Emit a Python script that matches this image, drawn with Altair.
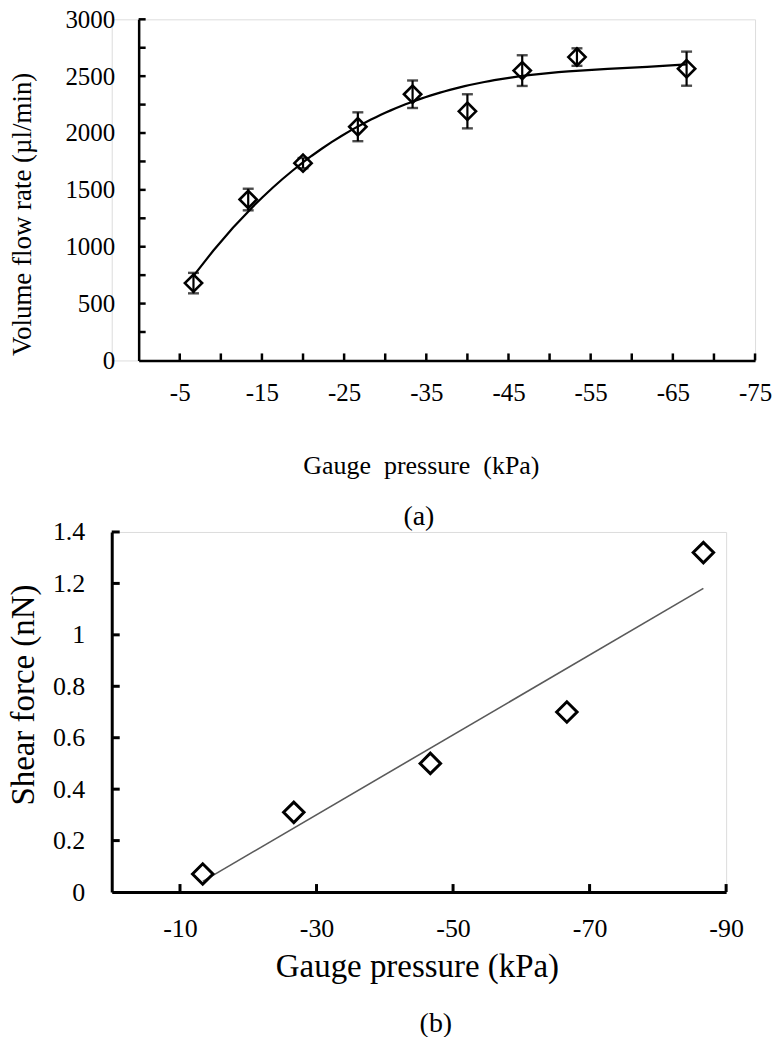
import altair as alt
import pandas as pd

# ---------------- data: panel (a) ----------------
pressure_a = [-6.67, -13.33, -20.0, -26.67, -33.33, -40.0, -46.67, -53.33, -66.67]
flow_a = [680, 1415, 1735, 2055, 2341, 2191, 2549, 2668, 2566]
flow_err_a = [90, 95, 45, 127, 121, 150, 135, 77, 150]
x_ticks_a = [-5, -10, -15, -20, -25, -30, -35, -40, -45, -50, -55, -60, -65, -70, -75]
x_labels_a = [-5, -15, -25, -35, -45, -55, -65, -75]
y_ticks_a = [250, 500, 750, 1000, 1250, 1500, 1750, 2000, 2250, 2500, 2750, 3000]
y_labels_a = [0, 500, 1000, 1500, 2000, 2500, 3000]

# ---------------- data: panel (b) ----------------
pressure_b = [-13.33, -26.67, -46.67, -66.67, -86.67]
shear_b = [0.07, 0.31, 0.50, 0.70, 1.32]
x_ticks_b = [-10, -30, -50, -70, -90]
y_ticks_b = [0.2, 0.4, 0.6, 0.8, 1.0, 1.2, 1.4]
y_labels_b = [0, 0.2, 0.4, 0.6, 0.8, 1.0, 1.2, 1.4]

captions = ["(a)", "(b)"]

FONT = "Liberation Serif"

# ================= panel (a) =================
WA, HA, XOFF = 645, 342, 27
xa_scale = alt.Scale(domain=[0, -75], range=[XOFF, WA], nice=False, zero=False)
ya_scale = alt.Scale(domain=[0, 3000], nice=False)

xa_axis = alt.Axis(
    values=x_labels_a, labelExpr="'-' + abs(datum.value)", ticks=False, tickSize=0,
    grid=False, domainColor="black", domainWidth=2.5,
    labelFont=FONT, labelFontSize=25, labelColor="black", labelPadding=32,
    labelBaseline="middle", labelFlush=False,
    title="Gauge\u00a0\u00a0pressure\u00a0\u00a0(kPa)", titleFont=FONT, titleFontSize=26,
    titleFontWeight="normal", titleColor="black", titleX=310, titleY=105,
    titleAlign="center", titleBaseline="middle",
)
ya_axis = alt.Axis(
    values=y_labels_a, format="d", ticks=False, tickSize=0, offset=-XOFF,
    grid=False, domainColor="black", domainWidth=2.5,
    labelFont=FONT, labelFontSize=25, labelColor="black", labelPadding=24,
    title="Volume flow rate (\u00b5l/min)", titleFont=FONT, titleFontSize=27,
    titleFontWeight="normal", titleColor="black", titleX=-116, titleY=195,
    titleAngle=-90, titleAlign="center", titleBaseline="middle",
)

dfa = pd.DataFrame({"p": pressure_a, "q": flow_a, "e": flow_err_a})
base_a = alt.Chart(dfa)
XA = alt.X("p:Q", scale=xa_scale, axis=xa_axis)

fit_a = base_a.transform_regression("p", "q", method="poly", order=3).mark_line(
    color="black", strokeWidth=2.2
).encode(x=XA, y=alt.Y("q:Q", scale=ya_scale, axis=ya_axis))

err_a = base_a.transform_calculate(lo="datum.q - datum.e", hi="datum.q + datum.e")
bars_a = err_a.mark_rule(color="black", strokeWidth=2.2).encode(
    x=XA, y=alt.Y("lo:Q", scale=ya_scale, axis=ya_axis), y2="hi:Q")
cap_lo = err_a.mark_tick(color="black", orient="horizontal", size=11, thickness=2.4).encode(
    x=XA, y=alt.Y("lo:Q", scale=ya_scale, axis=ya_axis))
cap_hi = err_a.mark_tick(color="black", orient="horizontal", size=11, thickness=2.4).encode(
    x=XA, y=alt.Y("hi:Q", scale=ya_scale, axis=ya_axis))
pts_a = base_a.mark_point(shape="diamond", filled=False, size=300, strokeWidth=2.6,
                          color="black", opacity=1).encode(
    x=XA, y=alt.Y("q:Q", scale=ya_scale, axis=ya_axis))

xt_a = alt.Chart(pd.DataFrame({"p": x_ticks_a})).mark_rule(color="black", strokeWidth=2.5).encode(
    x=XA, y=alt.value(HA), y2=alt.value(HA - 7))
yt_a = alt.Chart(pd.DataFrame({"q": y_ticks_a})).mark_rule(color="black", strokeWidth=2.5).encode(
    y=alt.Y("q:Q", scale=ya_scale, axis=ya_axis), x=alt.value(XOFF), x2=alt.value(XOFF + 7))
cap_a = alt.Chart(pd.DataFrame({"t": [captions[0]]})).mark_text(
    font=FONT, fontSize=28, color="black", align="center", baseline="middle").encode(
    text="t:N", x=alt.value(308), y=alt.value(499))

panel_a = alt.layer(xt_a, yt_a, fit_a, bars_a, cap_lo, cap_hi, pts_a, cap_a).properties(
    width=WA, height=HA)

# ================= panel (b) =================
WB, HB = 616, 361
xb_scale = alt.Scale(domain=[0, -90], nice=False, zero=False)
yb_scale = alt.Scale(domain=[0, 1.4], nice=False)

xb_axis = alt.Axis(
    values=x_ticks_b, labelExpr="'-' + abs(datum.value)", ticks=False, tickSize=0,
    grid=False, domainColor="black", domainWidth=3,
    labelFont=FONT, labelFontSize=26, labelColor="black", labelPadding=37,
    labelBaseline="middle", labelFlush=False,
    title="Gauge pressure (kPa)", titleFont=FONT, titleFontSize=33,
    titleFontWeight="normal", titleColor="black", titleX=306, titleY=75,
    titleAlign="center", titleBaseline="middle",
)
yb_axis = alt.Axis(
    values=y_labels_b, format=".1~f", ticks=False, tickSize=0,
    grid=False, domainColor="black", domainWidth=3,
    labelFont=FONT, labelFontSize=26, labelColor="black", labelPadding=27,
    title="Shear force (nN)", titleFont=FONT, titleFontSize=33,
    titleFontWeight="normal", titleColor="black", titleX=-88, titleY=163,
    titleAngle=-90, titleAlign="center", titleBaseline="middle",
)

dfb = pd.DataFrame({"p": pressure_b, "s": shear_b})
base_b = alt.Chart(dfb)
XB = alt.X("p:Q", scale=xb_scale, axis=xb_axis)
YB = alt.Y("s:Q", scale=yb_scale, axis=yb_axis)

fit_b = base_b.transform_regression("p", "s").mark_line(color="#5a5a5a", strokeWidth=1.6).encode(
    x=XB, y=YB)
pts_b = base_b.mark_point(shape="diamond", filled=False, size=420, strokeWidth=3,
                          color="black", opacity=1).encode(x=XB, y=YB)
xt_b = alt.Chart(pd.DataFrame({"p": x_ticks_b})).mark_rule(color="black", strokeWidth=3).encode(
    x=XB, y=alt.value(HB), y2=alt.value(HB - 8))
yt_b = alt.Chart(pd.DataFrame({"s": y_ticks_b})).mark_rule(color="black", strokeWidth=3).encode(
    y=YB, x=alt.value(0), x2=alt.value(8))
cap_b = alt.Chart(pd.DataFrame({"t": [captions[1]]})).mark_text(
    font=FONT, fontSize=28, color="black", align="center", baseline="middle").encode(
    text="t:N", x=alt.value(325), y=alt.value(493))

panel_b = alt.layer(xt_b, yt_b, fit_b, pts_b, cap_b).properties(width=WB, height=HB)

chart = alt.vconcat(panel_a, panel_b, spacing=172, bounds="flush").properties(
    autosize=alt.AutoSizeParams(type="none"),
    padding={"left": 104, "top": 10, "right": 662, "bottom": 1019},
).configure_view(stroke=None).configure(
    background="white", font=FONT
).configure_axis(labelFont=FONT, titleFont=FONT).configure_text(font=FONT)

chart.save("out.html", embed_options={"renderer": "svg", "actions": False})
